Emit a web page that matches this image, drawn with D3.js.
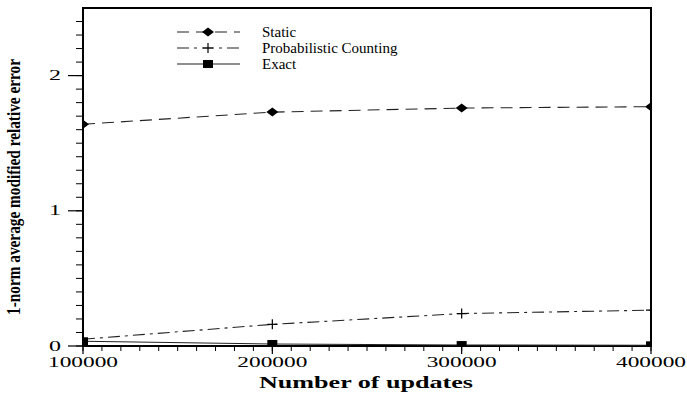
<!DOCTYPE html>
<html lang="en">
<head>
<meta charset="UTF-8">
<title>Number of updates vs relative error</title>
<script src="https://d3js.org/d3.v7.min.js"></script>
<style>
    body { margin: 0; background: #fff; }
    svg { display: block; }
    svg text { font-family: 'Liberation Serif', 'Times New Roman', serif; }
</style>
</head>
<body>
<script>
    // Data
    const updates = [100000, 200000, 300000, 400000];
    const staticErr = [1.64, 1.73, 1.76, 1.77];
    const probErr = [0.05, 0.16, 0.24, 0.265];
    const exactErr = [0.035, 0.015, 0.007, 0.005];
    const seriesNames = ["Static", "Probabilistic Counting", "Exact"];
    const yTickValues = [0, 1, 2];
    const xTickValues = [100000, 200000, 300000, 400000];

    const width = 687, height = 398;
    const margin = {top: 8, right: 36, bottom: 52, left: 83};
    const plotW = width - margin.left - margin.right;
    const plotH = height - margin.top - margin.bottom;

    const svg = d3.select("body").append("svg")
        .attr("width", width)
        .attr("height", height);

    const g = svg.append("g")
        .attr("transform", `translate(${margin.left},${margin.top})`);

    const x = d3.scaleLinear().domain([100000, 400000]).range([0, plotW]);
    const y = d3.scaleLinear().domain([0, 2.5]).range([plotH, 0]);

    g.append("clipPath").attr("id", "clip")
        .append("rect").attr("width", plotW).attr("height", plotH);

    // frame
    g.append("rect")
        .attr("width", plotW).attr("height", plotH)
        .attr("fill", "none").attr("stroke", "#000").attr("stroke-width", 2);

    // y axis: minor ticks every 0.1, major at integers
    const yMinor = d3.range(0, 25).map(i => i / 10);
    g.selectAll(".ymin").data(yMinor).enter().append("line")
        .attr("x1", -7).attr("x2", 0)
        .attr("y1", d => y(d)).attr("y2", d => y(d))
        .attr("stroke", "#000").attr("stroke-width", 1);
    g.selectAll(".ymaj").data(yTickValues).enter().append("line")
        .attr("x1", -15).attr("x2", 0)
        .attr("y1", d => y(d)).attr("y2", d => y(d))
        .attr("stroke", "#000").attr("stroke-width", 1.2);
    g.selectAll(".ylab").data(yTickValues).enter().append("text")
        .attr("x", -22).attr("y", d => y(d) + 4.5)
        .attr("text-anchor", "end")
        .attr("textLength", 12).attr("lengthAdjust", "spacingAndGlyphs")
        .style("font-size", "14px")
        .text(d => d);

    // x axis: minor ticks every 10000
    const xMinor = d3.range(100000, 400001, 10000);
    g.selectAll(".xmin").data(xMinor).enter().append("line")
        .attr("x1", d => x(d)).attr("x2", d => x(d))
        .attr("y1", plotH).attr("y2", plotH + 5)
        .attr("stroke", "#000").attr("stroke-width", 1);
    g.selectAll(".xmaj").data(xTickValues).enter().append("line")
        .attr("x1", d => x(d)).attr("x2", d => x(d))
        .attr("y1", plotH).attr("y2", plotH + 8)
        .attr("stroke", "#000").attr("stroke-width", 1.2);
    g.selectAll(".xlab").data(xTickValues).enter().append("text")
        .attr("x", d => x(d)).attr("y", plotH + 21)
        .attr("text-anchor", "middle")
        .attr("textLength", 70).attr("lengthAdjust", "spacingAndGlyphs")
        .style("font-size", "14px")
        .text(d => d);

    // axis titles
    svg.append("text")
        .attr("x", 366).attr("y", 388)
        .attr("text-anchor", "middle")
        .attr("textLength", 214).attr("lengthAdjust", "spacingAndGlyphs")
        .style("font-size", "16px").style("font-weight", "bold")
        .text("Number of updates");

    svg.append("text")
        .attr("transform", "translate(20,187) rotate(-90)")
        .attr("text-anchor", "middle")
        .attr("textLength", 256).attr("lengthAdjust", "spacingAndGlyphs")
        .style("font-size", "18px").style("font-weight", "bold")
        .text("1-norm average modified relative error");

    const series = [
        {name: seriesNames[0], values: staticErr, dash: "12,7", marker: "diamond"},
        {name: seriesNames[1], values: probErr, dash: "12,5,3,5", marker: "plus"},
        {name: seriesNames[2], values: exactErr, dash: null, marker: "square"}
    ];

    const line = d3.line().x(d => x(d[0])).y(d => y(d[1]));
    const plot = g.append("g").attr("clip-path", "url(#clip)");

    function drawMarker(sel, type, cx, cy) {
        if (type === "diamond") {
            sel.append("path")
                .attr("d", `M${cx - 6},${cy}L${cx},${cy - 4.5}L${cx + 6},${cy}L${cx},${cy + 4.5}Z`)
                .attr("fill", "#000");
        } else if (type === "plus") {
            sel.append("path")
                .attr("d", `M${cx - 5},${cy}H${cx + 5}M${cx},${cy - 5}V${cy + 5}`)
                .attr("stroke", "#000").attr("stroke-width", 1.2);
        } else {
            sel.append("rect")
                .attr("x", cx - 5).attr("y", cy - 4)
                .attr("width", 10).attr("height", 8)
                .attr("fill", "#000");
        }
    }

    series.forEach(s => {
        const pts = updates.map((u, i) => [u, s.values[i]]);
        plot.append("path")
            .datum(pts)
            .attr("d", line)
            .attr("fill", "none")
            .attr("stroke", "#222")
            .attr("stroke-width", 1.1)
            .attr("stroke-dasharray", s.dash);
        pts.forEach(p => drawMarker(plot, s.marker, x(p[0]), y(p[1])));
    });

    // legend
    const legend = svg.append("g");
    series.forEach((s, i) => {
        const ly = 32 + i * 16;
        legend.append("line")
            .attr("x1", 177).attr("x2", 240)
            .attr("y1", ly).attr("y2", ly)
            .attr("stroke", "#222").attr("stroke-width", 1.1)
            .attr("stroke-dasharray", s.dash);
        drawMarker(legend, s.marker, 208, ly);
        legend.append("text")
            .attr("x", 262).attr("y", ly + 5)
            .style("font-size", "15px")
            .text(s.name);
    });
</script>
</body>
</html>
